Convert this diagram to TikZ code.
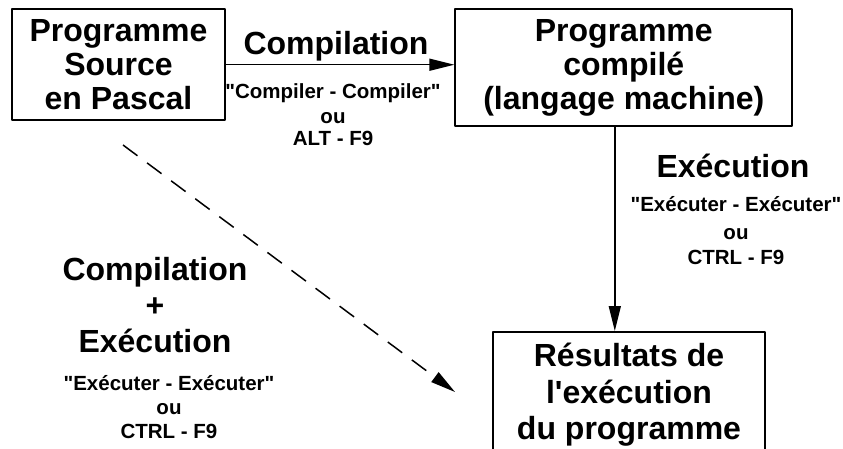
\documentclass[tikz,border=0pt]{standalone}
\usepackage{fontspec}
\setmainfont{Liberation Sans}[Ligatures=TeXOff]
\usetikzlibrary{arrows.meta}
\begin{document}
\begin{tikzpicture}[x=1pt,y=-1pt,>={Triangle[length=25pt,width=12pt]}, line join=round,
	boite/.style={draw,line width=1.8pt,align=center,inner sep=0pt,font=\fontsize{32}{34}\selectfont\bfseries},
	grand/.style={align=center,inner sep=0pt,font=\fontsize{32}{36}\selectfont\bfseries},
	petit/.style={align=center,inner sep=0pt,font=\fontsize{20.5}{24}\selectfont\bfseries},
	fleche/.style={->,line width=1.5pt}]
\useasboundingbox (0,0) rectangle (843,449);
\clip (0,0) rectangle (843,449);
% Cadres
\node[boite,minimum width=213pt,minimum height=111pt] (src) at (118.5,64.7) {Programme\\Source\\en Pascal};
\node[boite,minimum width=337pt,minimum height=117pt] (cmp) at (623.8,67.7) {Programme\\compilé\\(langage machine)};
\node[boite,minimum width=272pt,minimum height=126pt,font=\fontsize{32}{36.5}\selectfont\bfseries] (res) at (629,395) {Résultats de\\l'exécution\\du programme};
% Fleches
\draw[fleche] (src.east) -- (src.east -| cmp.west);
\draw[fleche] ([xshift=-9pt]cmp.south) -- ([xshift=-9pt]cmp.south |- res.north);
\coordinate (depart) at (123,145);
\coordinate (arrivee) at (455,392);
\draw[fleche,dash pattern=on 18pt off 12pt] (depart) -- (arrivee);
% Legendes
\node[grand,anchor=base] (lcomp) at (336,55) {Compilation};
\node[petit,anchor=north] (lalt) at (333,83) {"Compiler - Compiler"\\[1pt]ou\\[-2pt]ALT - F9};
\node[grand,anchor=base] (lexec) at (733,178) {Exécution};
\node[petit,anchor=north] (lctrl) at (736,196) {"Exécuter - Exécuter"\\[4pt]ou\\[1pt]CTRL - F9};
\node[grand,anchor=north] (ltout) at (155,257) {Compilation\\+\\Exécution};
\node[petit,anchor=north] (ltoutctrl) at (169,375) {"Exécuter - Exécuter"\\ou\\CTRL - F9};
\end{tikzpicture}
\end{document}
